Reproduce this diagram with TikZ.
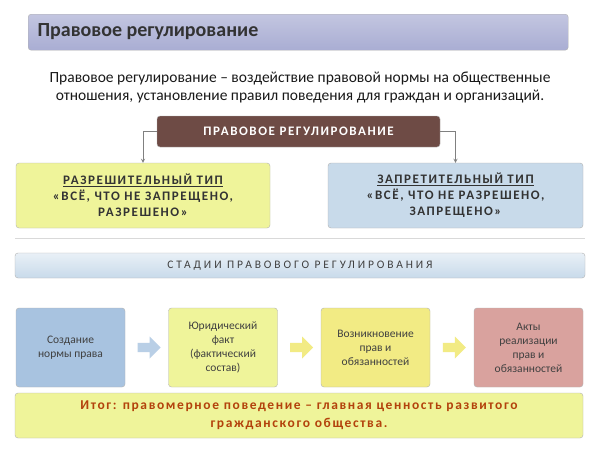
\documentclass[tikz,border=0pt]{standalone}
\usepackage{fontspec}
\setmainfont{Carlito}
\usetikzlibrary{shapes.arrows,calc}
\definecolor{ttl}{HTML}{A9ADD3}
\definecolor{dark}{HTML}{6E4B45}
\definecolor{ylw}{HTML}{EFF49A}
\definecolor{blu}{HTML}{C8DAEA}
\definecolor{blu2}{HTML}{A8C3E0}
\definecolor{ylw2}{HTML}{F2EB84}
\definecolor{pnk}{HTML}{D9A29E}
\definecolor{org}{HTML}{B3420C}
\tikzset{
 box/.style={draw=gray!60, rounded corners=3pt, inner sep=0pt},
 sbox/.style={box, minimum width=109pt, minimum height=79pt, align=center, font=\fontsize{11.5}{14}\selectfont, text=black!75},
 fat/.style={single arrow, minimum height=23pt, minimum width=22pt, single arrow head extend=3pt, draw=none, inner sep=2pt},
 conn/.style={draw=gray, line width=0.8pt, -stealth},
 caps/.style={font=\fontsize{13}{16}\bfseries\selectfont\addfontfeature{LetterSpace=12}}
}
\begin{document}
\begin{tikzpicture}[x=1pt,y=-1pt]
\fill[white] (0,0) rectangle (600,450);
\node[box, top color=ttl!70, bottom color=ttl, minimum width=540pt, minimum height=36pt, anchor=north west] (title) at (28,14) {};
\node[anchor=west, font=\fontsize{20}{24}\bfseries\selectfont, text=black!80] (tt) at (34,32) {Правовое регулирование};
\node[align=center, font=\fontsize{15.5}{18}\selectfont, text=black!90] (def) at (300,87) {Правовое регулирование -- воздействие правовой нормы на общественные\\отношения, установление правил поведения для граждан и организаций.};
\node[box, fill=dark, text=white, minimum width=283pt, minimum height=31pt, caps] (pr) at (298.5,131.5) {ПРАВОВОЕ РЕГУЛИРОВАНИЕ};
\node[box, fill=ylw, minimum width=254pt, minimum height=65pt, align=center, caps, text=black!80] (left) at (143,195.5) {\underline{РАЗРЕШИТЕЛЬНЫЙ ТИП}\\«ВСЁ, ЧТО НЕ ЗАПРЕЩЕНО,\\РАЗРЕШЕНО»};
\node[box, fill=blu, minimum width=255pt, minimum height=65pt, align=center, caps, text=black!80] (right) at (455.5,195.5) {\underline{ЗАПРЕТИТЕЛЬНЫЙ ТИП}\\«ВСЁ, ЧТО НЕ РАЗРЕШЕНО,\\ЗАПРЕЩЕНО»};
\draw[conn] (pr.west) -| (left.north);
\draw[conn] (pr.east) -| (right.north);
\draw[gray!30, line width=1pt] (15,238) -- (585,238);
\node[box, top color=blu!40, bottom color=blu, minimum width=570pt, minimum height=25pt, font=\fontsize{11.5}{14}\selectfont\addfontfeature{LetterSpace=25}, text=black!75] (st) at (300,265.5) {СТАДИИ ПРАВОВОГО РЕГУЛИРОВАНИЯ};
\node[sbox, fill=blu2] (s1) at (70.5,347.5) {Создание\\нормы права};
\node[sbox, fill=ylw] (s2) at (223,347.5) {Юридический\\факт\\(фактический\\состав)};
\node[sbox, fill=ylw2] (s3) at (375.5,347.5) {Возникновение\\прав и\\обязанностей};
\node[sbox, fill=pnk] (s4) at (528.5,347.5) {Акты\\реализации\\прав и\\обязанностей};
\node[fat, fill=blu2!80] (a1) at ($(s1.east)!0.5!(s2.west)$) {};
\node[fat, fill=ylw2] (a2) at ($(s2.east)!0.5!(s3.west)$) {};
\node[fat, fill=ylw2] (a3) at ($(s3.east)!0.5!(s4.west)$) {};
\node[box, fill=ylw, minimum width=568pt, minimum height=45pt, align=center, text=org, font=\fontsize{13.5}{18}\bfseries\selectfont\addfontfeature{LetterSpace=12}] (res) at (299,415.5) {Итог: правомерное поведение -- главная ценность развитого\\гражданского общества.};
\end{tikzpicture}
\end{document}
